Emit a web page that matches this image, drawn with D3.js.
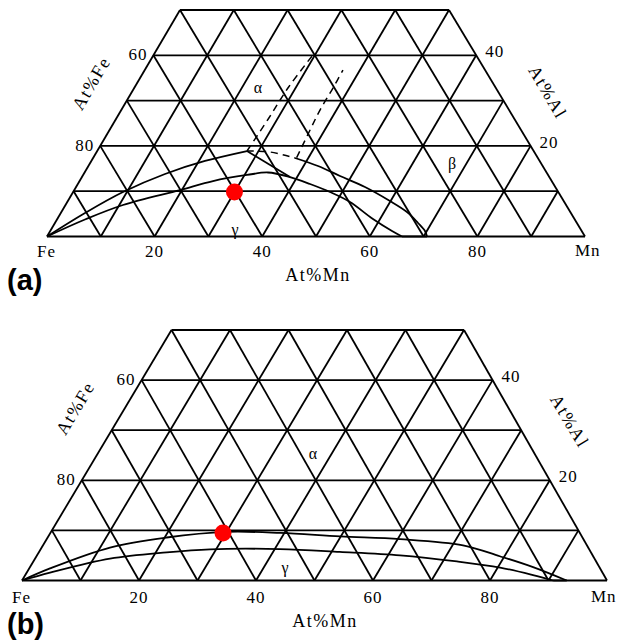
<!DOCTYPE html>
<html><head><meta charset="utf-8">
<script src="https://cdn.jsdelivr.net/npm/d3@7"></script>
<style>body{margin:0;background:#fff}svg{display:block}</style>
</head><body>
<script>
// ---------- data (composition as [Mn at%, Al at%]) ----------
const mnTicks = [20, 40, 60, 80];
const feTicks = [60, 80];          // Fe at% on the left edge
const alTicks = [40, 20];          // Al at% on the right edge
const gridSteps = [0, 10, 20, 30, 40, 50, 60, 70, 80, 90, 100];

// panel (a)
const aAlphaBoundary = [[0,0],[4.5,5.19],[9.27,9.82],[15.11,13.8],[21.13,16.67],[27.84,18.87]];
const aGammaBoundary = [[0,0],[5.2,3.75],[10.69,6.95],[19.65,10.26],[24.8,12.25],[30.46,13.58],[34.09,14.13],[38.68,13.13],[43.16,11.59],[47.75,9.82],[52.55,7.62],[58.68,3.86],[63.53,1.21],[65.99,0]];
const aGammaFoot = [[65.99,0],[70.63,0]];
const aBetaBoundary = [[37.53,17.33],[42.68,15.56],[47.86,13.36],[53.7,10.93],[59.87,7.84],[64.24,5.41],[67.49,2.98],[69.66,1.21],[70.63,0]];
const aTieAlphaGamma = [[27.84,18.87],[38.68,13.13]];
const aTieAlphaBeta = [[27.84,18.87],[32.23,18.65],[37.53,17.33]];
const aDashAlpha = [[27.84,18.87],[28.3,26],[28.6,33],[29.6,40]];
const aDashBeta = [[37.8,17.4],[37.27,23.51],[36.94,27.92],[36.95,32.78],[36.84,36.75]];
const aPoint = [30, 9.8];

// panel (b)
const bUpper = [[0,0],[3.56,2.41],[11.68,6.58],[20.34,8.58],[30,9.7],[39.3,9.5],[49.9,8.8],[60.4,8.26],[71.8,7.02],[79.2,4.84],[86,2.67],[93.1,0]];
const bLower = [[0,0],[3.99,1.56],[12.82,4.36],[21.86,5.62],[28.96,6.23],[40.9,6.27],[51.4,5.72],[62.05,5.03],[72.4,3.81],[80.4,2.59],[86.8,1.09],[90.8,0]];
const bFoot = [[90.8,0],[93.1,0]];
const bPoint = [29.5, 9.5];

// ---------- drawing ----------
const W = 621, H = 641;
const svg = d3.select("body").append("svg").attr("width", W).attr("height", H);
svg.append("rect").attr("width", W).attr("height", H).attr("fill", "#fff");

const serif = "'Liberation Serif','DejaVu Serif',serif";

function panel(cfg) {
  const mnS = d3.scaleLinear().domain([0, 100]).range(cfg.mnRange);
  const alS = d3.scaleLinear().domain([0, 50]).range(cfg.alRange);
  const shS = d3.scaleLinear().domain([0, 50]).range([0, cfg.shear]);
  const P = (mn, al) => [mnS(mn) + shS(al), alS(al)];
  const g = svg.append("g");
  const line = d3.line().x(d => P(d[0], d[1])[0]).y(d => P(d[0], d[1])[1]);
  const curve = d3.line().x(d => P(d[0], d[1])[0]).y(d => P(d[0], d[1])[1]).curve(d3.curveCatmullRom.alpha(0.5));

  // grid
  const segs = [];
  gridSteps.filter(a => a <= 50).forEach(a => segs.push([[0, a], [100 - a, a]]));          // const Al
  gridSteps.filter(m => m < 100).forEach(m => segs.push([[m, 0], [m, Math.min(50, 100 - m)]])); // const Mn
  gridSteps.filter(s => s > 0).forEach(s => { const top = Math.min(50, s); segs.push([[s, 0], [s - top, top]]); }); // const Fe
  g.selectAll("path.grid").data(segs).join("path").attr("class", "grid")
    .attr("d", line).attr("fill", "none").attr("stroke", "#000").attr("stroke-width", 1.8);

  // curves
  cfg.solid.forEach(c => g.append("path").attr("d", curve(c)).attr("fill", "none").attr("stroke", "#000").attr("stroke-width", 1.8));
  (cfg.straight || []).forEach(c => g.append("path").attr("d", line(c)).attr("fill", "none").attr("stroke", "#000").attr("stroke-width", 1.8));
  (cfg.dashed || []).forEach(c => g.append("path").attr("d", curve(c)).attr("fill", "none").attr("stroke", "#000").attr("stroke-width", 1.5).attr("stroke-dasharray", "7,5"));

  // point
  const pp = P(cfg.point[0], cfg.point[1]);
  g.append("circle").attr("cx", pp[0]).attr("cy", pp[1]).attr("r", 8.5).attr("fill", "#f00");

  // bottom ticks
  const yb = alS(0);
  g.selectAll("text.bt").data(mnTicks).join("text").attr("class", "bt")
    .attr("x", d => mnS(d)).attr("y", yb + cfg.tickDy).attr("text-anchor", "middle")
    .attr("font-family", serif).attr("font-size", 17).attr("letter-spacing", 1).text(d => d);
  g.append("text").attr("x", mnS(0) - 10).attr("y", yb + cfg.tickDy).attr("font-family", serif)
    .attr("font-size", 17).attr("letter-spacing", 1).text("Fe");
  g.append("text").attr("x", mnS(100) + cfg.mnDx).attr("y", yb + cfg.tickDy - 1).attr("font-family", serif)
    .attr("font-size", 17).attr("letter-spacing", 1).text("Mn");
  // left ticks (Fe)
  g.selectAll("text.lt").data(feTicks).join("text").attr("class", "lt")
    .attr("x", d => P(0, 100 - d)[0] - 6).attr("y", d => P(0, 100 - d)[1] + 5).attr("text-anchor", "end")
    .attr("font-family", serif).attr("font-size", 17).attr("letter-spacing", 1).text(d => d);
  // right ticks (Al)
  g.selectAll("text.rt").data(alTicks).join("text").attr("class", "rt")
    .attr("x", d => P(100 - d, d)[0] + 9).attr("y", d => P(100 - d, d)[1] + 2)
    .attr("font-family", serif).attr("font-size", 17).attr("letter-spacing", 1).text(d => d);
  // axis titles
  const ang = Math.atan2(alS(0) - alS(50), shS(50)) * 180 / Math.PI;
  g.append("text").attr("x", cfg.mnTitle[0]).attr("y", cfg.mnTitle[1]).attr("text-anchor", "middle")
    .attr("font-family", serif).attr("font-size", 18).attr("letter-spacing", 1.5).text("At%Mn");
  g.append("text").attr("transform", `translate(${cfg.feTitle[0]},${cfg.feTitle[1]}) rotate(${-ang})`)
    .attr("text-anchor", "middle").attr("dy", "0.35em")
    .attr("font-family", serif).attr("font-size", 18).attr("letter-spacing", 1.5).text("At%Fe");
  g.append("text").attr("transform", `translate(${cfg.alTitle[0]},${cfg.alTitle[1]}) rotate(${ang})`)
    .attr("text-anchor", "middle").attr("dy", "0.35em")
    .attr("font-family", serif).attr("font-size", 18).attr("letter-spacing", 1.5).text("At%Al");
  // phase labels
  cfg.phases.forEach(p => g.append("text").attr("x", p.x).attr("y", p.y).attr("text-anchor", "middle")
    .attr("dy", "0.35em").attr("font-family", serif).attr("font-size", 16).text(p.t));
  // panel tag
  g.append("text").attr("x", 7).attr("y", cfg.tagY).attr("font-family", "'Liberation Sans',Arial,sans-serif")
    .attr("font-weight", "bold").attr("font-size", 29).text(cfg.tag);
}

panel({
  mnRange: [47, 585], alRange: [236.5, 10], shear: 133,
  solid: [aAlphaBoundary, aGammaBoundary, aBetaBoundary],
  straight: [aGammaFoot, aTieAlphaGamma],
  dashed: [aTieAlphaBeta, aDashAlpha, aDashBeta],
  point: aPoint, tickDy: 20, mnDx: -10,
  mnTitle: [318, 281], feTitle: [91, 83], alTitle: [548, 92],
  phases: [{t: "α", x: 258, y: 87}, {t: "β", x: 452, y: 163}, {t: "γ", x: 235, y: 229}],
  tag: "(a)", tagY: 290
});

panel({
  mnRange: [22, 607], alRange: [580.5, 330], shear: 149.5,
  solid: [bUpper, bLower],
  straight: [bFoot],
  dashed: [],
  point: bPoint, tickDy: 22, mnDx: -16,
  mnTitle: [325, 627], feTitle: [75, 408], alTitle: [570, 421],
  phases: [{t: "α", x: 313, y: 453}, {t: "γ", x: 285, y: 567}],
  tag: "(b)", tagY: 634
});
</script>
</body></html>
